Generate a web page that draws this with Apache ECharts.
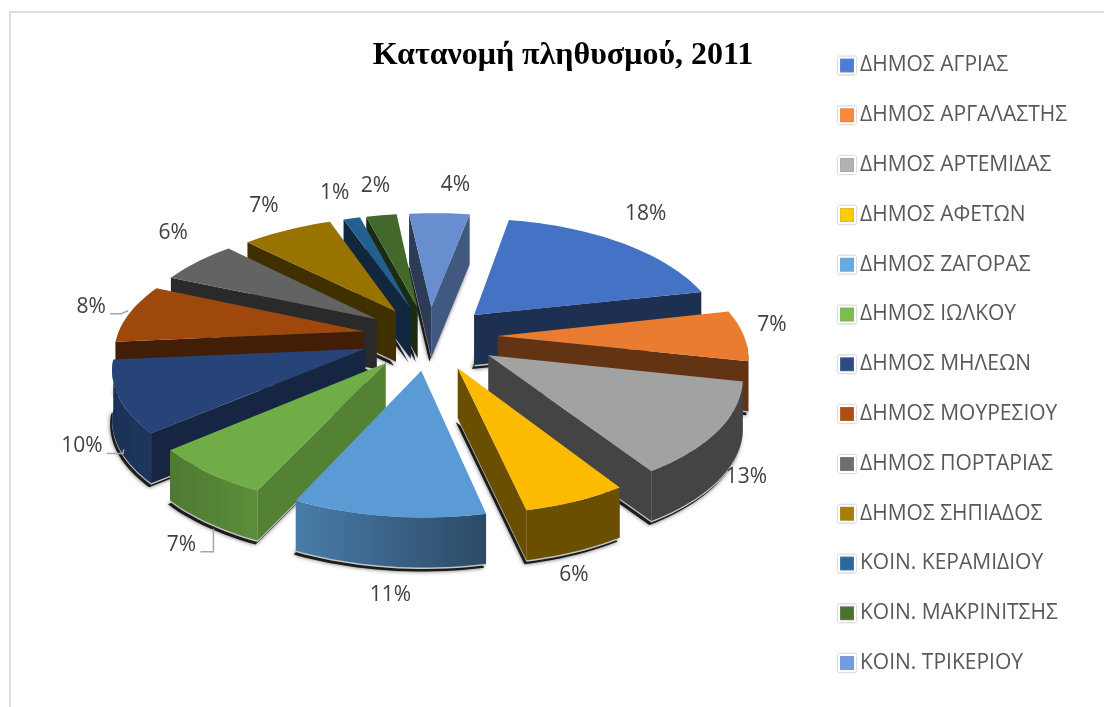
<!DOCTYPE html>
<html>
<head>
<meta charset="utf-8">
<title>Κατανομή πληθυσμού, 2011</title>
<style>
  html, body { margin: 0; padding: 0; background: #fff; }
  #main { width: 1104px; height: 707px; }
</style>
<script src="https://cdn.jsdelivr.net/npm/echarts@6/dist/echarts.min.js"></script>
</head>
<body>
<div id="main"></div>
<script>
var names = ["ΔΗΜΟΣ ΑΓΡΙΑΣ", "ΔΗΜΟΣ ΑΡΓΑΛΑΣΤΗΣ", "ΔΗΜΟΣ ΑΡΤΕΜΙΔΑΣ", "ΔΗΜΟΣ ΑΦΕΤΩΝ", "ΔΗΜΟΣ ΖΑΓΟΡΑΣ",
  "ΔΗΜΟΣ ΙΩΛΚΟΥ", "ΔΗΜΟΣ ΜΗΛΕΩΝ", "ΔΗΜΟΣ ΜΟΥΡΕΣΙΟΥ", "ΔΗΜΟΣ ΠΟΡΤΑΡΙΑΣ", "ΔΗΜΟΣ ΣΗΠΙΑΔΟΣ",
  "ΚΟΙΝ. ΚΕΡΑΜΙΔΙΟΥ", "ΚΟΙΝ. ΜΑΚΡΙΝΙΤΣΗΣ", "ΚΟΙΝ. ΤΡΙΚΕΡΙΟΥ"];
// percent shares, labels show them rounded; the small ones
var shares = [18, 7, 13, 6, 11, 7, 10, 8, 5.72, 6.5, 1.2, 2.2, 4.38];
var colors = ["#4472C4", "#E97C30", "#A2A2A2", "#FDBB00", "#5B9BD5", "#70AD47", "#264478",
  "#9E480E", "#636363", "#997300", "#255E91", "#43682B", "#698ED0"];

// pixel nudge of each percent label away from the middle of its rim
var labelNudge = [[22, -30], [28, -11], [28, 47], [-2, 74], [2, 79], [-27, 72], [-37, 49],
  [-38, -7], [-24, -29], [-23, -24], [-17, -25], [-6, -29], [16, -28]];
// leader lines, relative to the label
var labelLeader = { 5: [[19, 7], [32, 7], [32, -16]], 6: [[25, 7], [41, 7], [42, 3]], 7: [[19, 7], [30, 7], [37, 4]] };
// brightness of the cut faces [start, end] and of the outer wall [left, right]
var faceTone = { 5: [0.75, 0.42], 12: [0.42, 0.62], 6: [0.55, 0.55] };
var wallTone = { 4: [0.8, 0.48], 5: [0.82, 0.7], 6: [0.8, 0.7] };

// fake 3d set up: a flat disc seen from above, with some perspective
var cx = 430, cy = 338, R = 249, explode = 68, depth = 50;
var tilt = 0.465, perspX = 0.0004, perspY = 0.00057, firstAngle = 9;
var rimDriftX = 4, rimDriftY = 7;   // excel's ellipse is not quite an ellipse
var total = shares.reduce(function (a, b) { return a + b; }, 0);

function project(X, Z, lift) {
  return [cx + X / (1 + perspX * Z), cy - tilt * Z / (1 + perspY * Z) + (lift || 0)];
}
function rad(d) { return d * Math.PI / 180; }

function shade(hex, t) {
  var n = parseInt(hex.slice(1), 16);
  var r = Math.min(255, Math.round((n >> 16) * t));
  var g = Math.min(255, Math.round(((n >> 8) & 255) * t));
  var b = Math.min(255, Math.round((n & 255) * t));
  return "rgb(" + r + "," + g + "," + b + ")";
}

function sliceAngles(i) {
  var before = 0;
  for (var k = 0; k < i; k++) before += shares[k];
  var start = firstAngle + before / total * 360;
  return [start, start + shares[i] / total * 360];
}

function makeRenderItem(i) {
  return function (params, api) {
    var angles = sliceAngles(i);
    var a0 = angles[0], a1 = angles[0] + api.value(0) / total * 360;
    var mid = (a0 + a1) / 2;
    var ox = explode * Math.sin(rad(mid)), oz = explode * Math.cos(rad(mid));
    var color = colors[i];

    function rimPoint(a, r, lift) {
      var s = Math.sin(rad(a)), c = Math.cos(rad(a));
      var p = project(ox + r * s, oz + r * c, lift);
      return [p[0] + rimDriftX * c * c, p[1] + rimDriftY * s * s];
    }
    function rim(from, to, lift) {
      var pts = [];
      var n = Math.max(2, Math.ceil((to - from) / 2));
      for (var k = 0; k <= n; k++) pts.push(rimPoint(from + (to - from) * k / n, R, lift));
      return pts;
    }
    var apex = project(ox, oz, 0), apexLow = project(ox, oz, depth);
    var children = [];

    // shadow and thin light line under the base
    function basePoly(dx, dy) {
      return [apexLow].concat(rim(a0, a1, depth)).map(function (p) { return [p[0] + dx, p[1] + dy]; });
    }
    children.push({ type: "polygon", silent: true, shape: { points: basePoly(-2, 4) },
      style: { fill: "#1c1c1c", shadowBlur: 4, shadowColor: "rgba(0,0,0,0.6)" } });
    children.push({ type: "polygon", silent: true, shape: { points: basePoly(0, 1.5) }, style: { fill: "#c4c4c4" } });

    // cut faces, only where they are the lower edge of the top
    var pStart = rimPoint(a0, R), pEnd = rimPoint(a1, R);
    function faceVisible(b, other) {
      var line = apex[1] + (b[1] - apex[1]) * (other[0] - apex[0]) / (b[0] - apex[0]);
      return other[1] < line;
    }
    var tones = faceTone[i] || [0.42, 0.42];
    [[pStart, pEnd, tones[0]], [pEnd, pStart, tones[1]]].forEach(function (f) {
      if (faceVisible(f[0], f[1])) {
        children.push({ type: "polygon", silent: true,
          shape: { points: [apex, f[0], [f[0][0], f[0][1] + depth], apexLow] },
          style: { fill: shade(color, f[2]) } });
      }
    });

    // outer wall, front half only
    var w0 = Math.max(a0, 90), w1 = Math.min(a1, 270);
    if (w1 > w0) {
      var wt = wallTone[i] || [0.42, 0.42];
      children.push({ type: "polygon", silent: true,
        shape: { points: rim(w0, w1, 0).concat(rim(w0, w1, depth).reverse()) },
        style: { fill: new echarts.graphic.LinearGradient(0, 0, 1, 0, [
          { offset: 0, color: shade(color, i === 4 ? wt[0] : wt[1]) },
          { offset: 1, color: shade(color, i === 4 ? wt[1] : wt[0]) }]) } });
    }

    // top
    children.push({ type: "polygon", silent: true, shape: { points: [apex].concat(rim(a0, a1, 0)) },
      style: { fill: color } });

    // percent label
    var anchor = rimPoint(mid, R);
    var lx = anchor[0] + labelNudge[i][0], ly = anchor[1] + labelNudge[i][1];
    if (labelLeader[i]) {
      children.push({ type: "polyline", silent: true,
        shape: { points: labelLeader[i].map(function (p) { return [lx + p[0], ly + p[1]]; }) },
        style: { fill: "none", stroke: "#A6A6A6", lineWidth: 1.5 } });
    }
    children.push({ type: "text", silent: true,
      style: { text: Math.round(api.value(0)) + "%", x: lx, y: ly, align: "center", verticalAlign: "middle",
        fill: "#404040", font: '21px "Open Sans"' } });

    return { type: "group", children: children };
  };
}

// painter's order: slices at the back first
function depthOf(i) {
  var a = sliceAngles(i);
  return Math.cos(rad((a[0] + a[1]) / 2));
}
var order = shares.map(function (v, i) { return i; }).sort(function (p, q) { return depthOf(q) - depthOf(p); });

var series = names.map(function (name, i) {
  return {
    name: name,
    type: "custom",
    coordinateSystem: "none",
    z: 2 + order.indexOf(i),
    silent: true,
    animation: false,
    itemStyle: { color: colors[i] },
    renderItem: makeRenderItem(i),
    data: [[shares[i]]]
  };
});

var myChart = echarts.init(document.getElementById("main"), null, { renderer: "canvas" });
myChart.setOption({
  backgroundColor: "#fff",
  animation: false,
  title: {
    text: "Κατανομή πληθυσμού, 2011",
    left: 558,
    top: 35,
    textAlign: "center",
    textStyle: { fontFamily: "Liberation Serif", fontWeight: "bold", fontSize: 32, color: "#000" }
  },
  legend: {
    orient: "vertical",
    left: 833,
    top: 50,
    z: 40,
    icon: "rect",
    itemWidth: 16,
    itemHeight: 16,
    itemGap: 28.8,
    selectedMode: false,
    textStyle: { fontFamily: "Open Sans", fontSize: 21, color: "#595959", lineHeight: 20, padding: 0 },
    data: names.map(function (n, i) {
      return { name: n, itemStyle: { color: shade(colors[i], 1.1), borderColor: "#fff", borderWidth: 2, shadowColor: "#999", shadowBlur: 2 } };
    })
  },
  graphic: [{
    type: "polyline",
    silent: true,
    shape: { points: [[10, 707], [10, 12], [1104, 12]] },
    style: { fill: "none", stroke: "#DEDEDE", lineWidth: 2 }
  }],
  series: series
});
</script>
</body>
</html>
